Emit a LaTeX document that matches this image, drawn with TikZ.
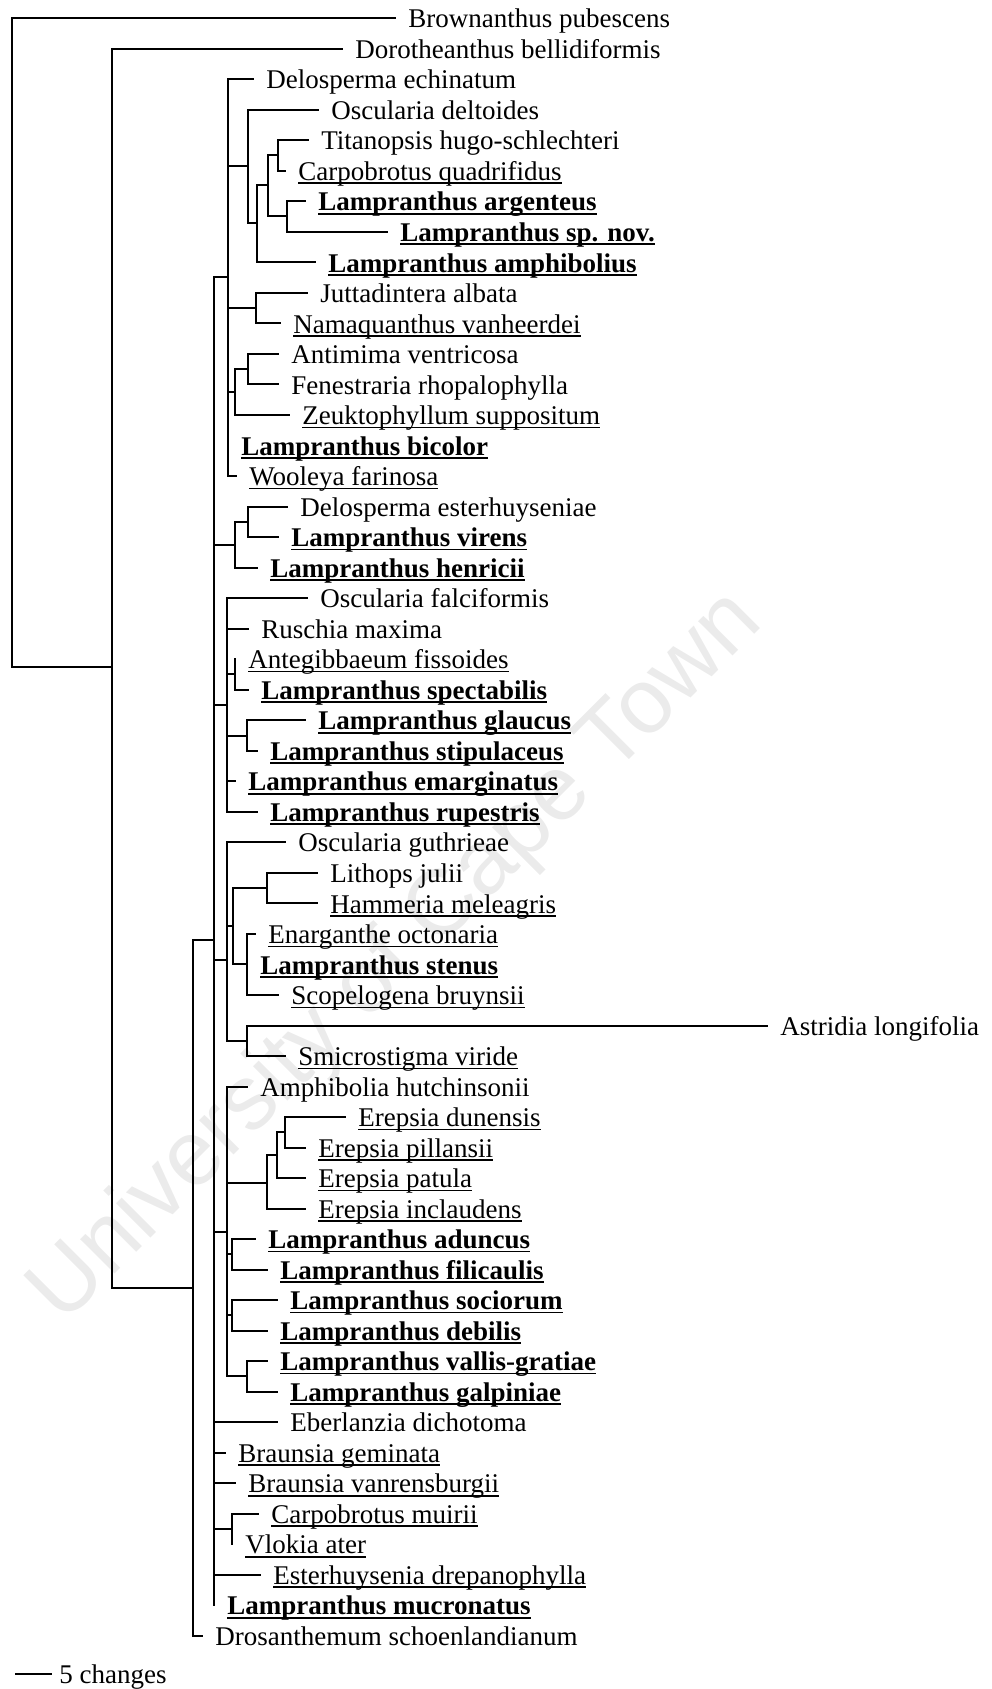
\documentclass[tikz,border=0pt]{standalone}
\usepackage{fontspec}
\setmainfont{Liberation Serif}
\newfontfamily\wmfont{Liberation Sans}
\newcommand\fs{\fontsize{13.5pt}{16pt}\selectfont}
\newcommand\uln[1]{\setbox0\hbox{#1}\rlap{\rule[-1.8pt]{\wd0}{0.8pt}}\box0}
\newcommand\clade[4]{\draw[br] (#1 |- #2) -- (#1 |- #3);\foreach \c in {#4}{\draw[br] (#1 |- \c) -- (\c);}}
\begin{document}
\begin{tikzpicture}[x=0.5pt,y=-0.5pt,
  br/.style={line width=1pt,line cap=rect},
  tx/.style={anchor=west,inner xsep=6.5pt,inner ysep=0pt,text height=10pt,text depth=0.4pt,font=\fs},
  tb/.style={tx,font=\fs\bfseries},
  wm/.style={text=black!8,font=\wmfont\fontsize{46pt}{50pt}\selectfont,rotate=45}]
\useasboundingbox (0,0) rectangle (991,1689);
\node[wm] (wmark) at (397,958) {University of Cape Town};
% tips
\node[tx] (t1) at (395,18.3) {Brownanthus pubescens};
\node[tx] (t2) at (342,48.8) {Dorotheanthus bellidiformis};
\node[tx] (t3) at (253,79.3) {Delosperma echinatum};
\node[tx] (t4) at (318,109.9) {Oscularia deltoides};
\node[tx] (t5) at (308,140.4) {Titanopsis hugo-schlechteri};
\node[tx] (t6) at (285,170.9) {\uln{Carpobrotus quadrifidus}};
\node[tb] (t7) at (305,201.4) {\uln{Lampranthus argenteus}};
\node[tb] (t8) at (387,231.9) {\uln{Lampranthus sp. nov.}};
\node[tb] (t9) at (315,262.5) {\uln{Lampranthus amphibolius}};
\node[tx] (t10) at (307,293.0) {Juttadintera albata};
\node[tx] (t11) at (280,323.5) {\uln{Namaquanthus vanheerdei}};
\node[tx] (t12) at (278,354.0) {Antimima ventricosa};
\node[tx] (t13) at (278,384.5) {Fenestraria rhopalophylla};
\node[tx] (t14) at (289,415.1) {\uln{Zeuktophyllum suppositum}};
\node[tb] (t15) at (228,445.6) {\uln{Lampranthus bicolor}};
\node[tx] (t16) at (236,476.1) {\uln{Wooleya farinosa}};
\node[tx] (t17) at (287,506.6) {Delosperma esterhuyseniae};
\node[tb] (t18) at (278,537.1) {\uln{Lampranthus virens}};
\node[tb] (t19) at (257,567.7) {\uln{Lampranthus henricii}};
\node[tx] (t20) at (307,598.2) {Oscularia falciformis};
\node[tx] (t21) at (248,628.7) {Ruschia maxima};
\node[tx] (t22) at (235,659.2) {\uln{Antegibbaeum fissoides}};
\node[tb] (t23) at (248,689.7) {\uln{Lampranthus spectabilis}};
\node[tb] (t24) at (305,720.3) {\uln{Lampranthus glaucus}};
\node[tb] (t25) at (257,750.8) {\uln{Lampranthus stipulaceus}};
\node[tb] (t26) at (235,781.3) {\uln{Lampranthus emarginatus}};
\node[tb] (t27) at (257,811.8) {\uln{Lampranthus rupestris}};
\node[tx] (t28) at (285,842.3) {Oscularia guthrieae};
\node[tx] (t29) at (317,872.9) {Lithops julii};
\node[tx] (t30) at (317,903.4) {\uln{Hammeria meleagris}};
\node[tx] (t31) at (255,933.9) {\uln{Enarganthe octonaria}};
\node[tb] (t32) at (247,964.4) {\uln{Lampranthus stenus}};
\node[tx] (t33) at (278,994.9) {\uln{Scopelogena bruynsii}};
\node[tx] (t34) at (767,1025.5) {Astridia longifolia};
\node[tx] (t35) at (285,1056.0) {\uln{Smicrostigma viride}};
\node[tx] (t36) at (247,1086.5) {Amphibolia hutchinsonii};
\node[tx] (t37) at (345,1117.0) {\uln{Erepsia dunensis}};
\node[tx] (t38) at (305,1147.5) {\uln{Erepsia pillansii}};
\node[tx] (t39) at (305,1178.1) {\uln{Erepsia patula}};
\node[tx] (t40) at (305,1208.6) {\uln{Erepsia inclaudens}};
\node[tb] (t41) at (255,1239.1) {\uln{Lampranthus aduncus}};
\node[tb] (t42) at (267,1269.6) {\uln{Lampranthus filicaulis}};
\node[tb] (t43) at (277,1300.1) {\uln{Lampranthus sociorum}};
\node[tb] (t44) at (267,1330.7) {\uln{Lampranthus debilis}};
\node[tb] (t45) at (267,1361.2) {\uln{Lampranthus vallis-gratiae}};
\node[tb] (t46) at (277,1391.7) {\uln{Lampranthus galpiniae}};
\node[tx] (t47) at (277,1422.2) {Eberlanzia dichotoma};
\node[tx] (t48) at (225,1452.7) {\uln{Braunsia geminata}};
\node[tx] (t49) at (235,1483.3) {\uln{Braunsia vanrensburgii}};
\node[tx] (t50) at (258,1513.8) {\uln{Carpobrotus muirii}};
\node[tx] (t51) at (232,1544.3) {\uln{Vlokia ater}};
\node[tx] (t52) at (260,1574.8) {\uln{Esterhuysenia drepanophylla}};
\node[tb] (t53) at (214,1605.3) {\uln{Lampranthus mucronatus}};
\node[tx] (t54) at (202,1635.9) {Drosanthemum schoenlandianum};
% internal nodes
\coordinate (rt) at (12,18.3);
\coordinate (n2) at (112,667);
\coordinate (n3) at (193,1288);
\coordinate (cP) at (214,940);
\coordinate (cF) at (228,277);
\coordinate (cA) at (248,166);
\coordinate (cB) at (257,223);
\coordinate (cC) at (268,185);
\coordinate (cD) at (278,155);
\coordinate (cE) at (287,216);
\coordinate (cG) at (256,308);
\coordinate (cH) at (235,392);
\coordinate (cI) at (248,369);
\coordinate (cJ) at (235,545);
\coordinate (cK) at (248,522);
\coordinate (cN) at (227,705);
\coordinate (cL) at (235,674);
\coordinate (cM) at (247,736);
\coordinate (cQ) at (227,960);
\coordinate (cOp) at (233,926);
\coordinate (cO) at (267,888);
\coordinate (cOe) at (247,964);
\coordinate (cAs) at (247,1041);
\coordinate (cR) at (227,1232);
\coordinate (cS) at (267,1183);
\coordinate (cT) at (277,1155);
\coordinate (cU) at (285,1132);
\coordinate (cV) at (232,1254);
\coordinate (cW) at (232,1315);
\coordinate (cX) at (247,1376);
\coordinate (cAA) at (232,1529);
% branches
\clade{rt}{t1.west}{n2}{t1.west,n2}
\clade{n2}{t2.west}{n3}{t2.west,n3}
\clade{n3}{cP}{t54.west}{cP,t54.west}
\clade{cP}{cF}{t53.west}{cF,cJ,cN,cQ,cR,t47.west,t48.west,t49.west,cAA,t52.west,t53.west}
\clade{cF}{t3.west}{t16.west}{t3.west,cA,cG,cH,t15.west,t16.west}
\clade{cA}{t4.west}{cB}{t4.west,cB}
\clade{cB}{cC}{t9.west}{cC,t9.west}
\clade{cC}{cD}{cE}{cD,cE}
\clade{cD}{t5.west}{t6.west}{t5.west,t6.west}
\clade{cE}{t7.west}{t8.west}{t7.west,t8.west}
\clade{cG}{t10.west}{t11.west}{t10.west,t11.west}
\clade{cH}{cI}{t14.west}{cI,t14.west}
\clade{cI}{t12.west}{t13.west}{t12.west,t13.west}
\clade{cJ}{cK}{t19.west}{cK,t19.west}
\clade{cK}{t17.west}{t18.west}{t17.west,t18.west}
\clade{cN}{t20.west}{t27.west}{t20.west,t21.west,cL,cM,t26.west,t27.west}
\clade{cL}{t22.west}{t23.west}{t22.west,t23.west}
\clade{cM}{t24.west}{t25.west}{t24.west,t25.west}
\clade{cQ}{t28.west}{cAs}{t28.west,cOp,cAs}
\clade{cOp}{cO}{cOe}{cO,cOe}
\clade{cO}{t29.west}{t30.west}{t29.west,t30.west}
\clade{cOe}{t31.west}{t33.west}{t31.west,t32.west,t33.west}
\clade{cAs}{t34.west}{t35.west}{t34.west,t35.west}
\clade{cR}{t36.west}{cX}{t36.west,cS,cV,cW,cX}
\clade{cS}{cT}{t40.west}{cT,t40.west}
\clade{cT}{cU}{t39.west}{cU,t39.west}
\clade{cU}{t37.west}{t38.west}{t37.west,t38.west}
\clade{cV}{t41.west}{t42.west}{t41.west,t42.west}
\clade{cW}{t43.west}{t44.west}{t43.west,t44.west}
\clade{cX}{t45.west}{t46.west}{t45.west,t46.west}
\clade{cAA}{t50.west}{t51.west}{t50.west,t51.west}
% scale bar
\coordinate (sb) at (16,1674);
\node[tx,inner xsep=4pt] (sbl) at (51,1674) {5 changes};
\draw[br] (sb) -- (sbl.west);
\end{tikzpicture}
\end{document}
